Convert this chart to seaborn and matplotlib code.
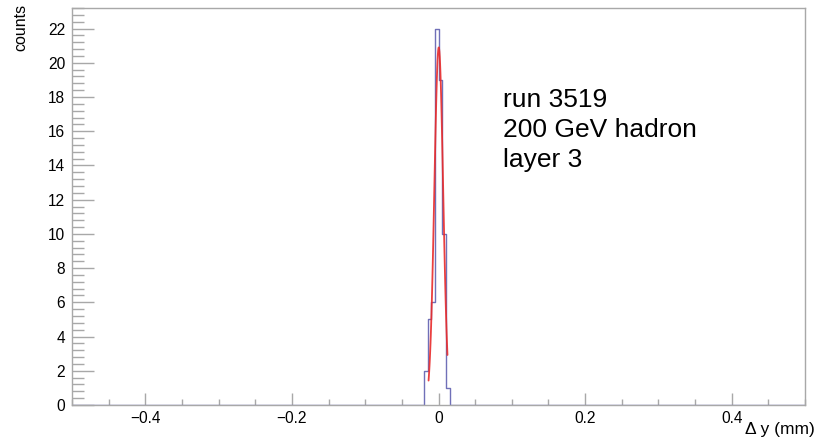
import numpy as np
import pandas as pd
import seaborn as sns
import matplotlib.pyplot as plt
from matplotlib.ticker import MultipleLocator, FuncFormatter

# histogram contents (bin width 0.005 mm)
bin_centers = [-0.0175, -0.0125, -0.0075, -0.0025, 0.0025, 0.0075, 0.0125]
bin_counts = [2, 5, 6, 22, 19, 10, 1]

# gaussian fit drawn on top
fit_amp = 20.9
fit_mean = 0.0003
fit_sigma = 0.006
fit_range = (-0.0136, 0.0122)

info_lines = ["run 3519", "200 GeV hadron", "layer 3"]

sns.set_style("white")
plt.rcParams["font.family"] = ["Liberation Sans", "DejaVu Sans"]
plt.rcParams["text.color"] = "black"

hist_df = pd.DataFrame({"dy": bin_centers, "n": bin_counts})
xs = np.linspace(fit_range[0], fit_range[1], 60)
fit_df = pd.DataFrame({"dy": xs,
                       "f": fit_amp * np.exp(-0.5 * ((xs - fit_mean) / fit_sigma) ** 2)})

fig = plt.figure(figsize=(8.25, 4.42), dpi=100)
ax = fig.add_axes([0.0873, 0.0837, 0.8885, 0.8982])

sns.histplot(data=hist_df, x="dy", weights="n", binwidth=0.005, binrange=(-0.5, 0.5),
             element="step", fill=False, color="#7070b8", linewidth=1.0, ax=ax)
sns.lineplot(data=fit_df, x="dy", y="f", color="#e82a2a", linewidth=1.3, alpha=0.9, ax=ax)

ax.xaxis.set_major_locator(MultipleLocator(0.2))
ax.xaxis.set_minor_locator(MultipleLocator(0.05))
ax.yaxis.set_major_locator(MultipleLocator(2))
ax.yaxis.set_minor_locator(MultipleLocator(0.4))
ax.xaxis.set_major_formatter(FuncFormatter(
    lambda v, p: ("0" if abs(v) < 1e-9 else f"{v:.1f}").replace("-", "\u2212")))
ax.set_xlim(-0.5, 0.5)
ax.set_ylim(0, 23.2)

frame = "#a8a8a8"
for s in ax.spines.values():
    s.set_color(frame)
    s.set_linewidth(1.0)
ax.tick_params(axis="both", which="both", direction="in", colors=frame,
               labelcolor="black", labelsize=11.2, bottom=True, left=True,
               width=1.0)
ax.tick_params(axis="x", which="major", length=8.5, pad=4)
ax.tick_params(axis="x", which="minor", length=4.3)
ax.tick_params(axis="y", which="major", length=15.5, pad=5)
ax.tick_params(axis="y", which="minor", length=8.4)

ax.set_xlabel("")
ax.set_ylabel("")
fig.text(0.988, 0.018, "\u0394 y (mm)", ha="right", va="baseline", fontsize=12.5)
fig.text(0.016, 0.992, "counts", ha="left", va="top", rotation=90, fontsize=11.5)

for i, line in enumerate(info_lines):
    ax.text(0.5876, 0.75 - i * 0.075, line, transform=ax.transAxes,
            ha="left", va="baseline", fontsize=19)

plt.savefig("out.png", dpi=100)
